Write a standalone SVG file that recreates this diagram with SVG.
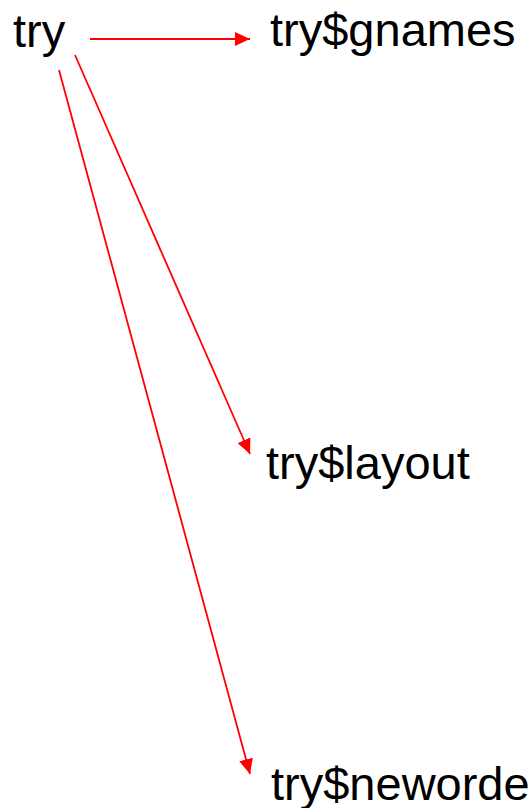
<svg xmlns="http://www.w3.org/2000/svg" width="530" height="808" viewBox="0 0 530 808">
<style>
.lbl{font-family:"Liberation Sans",Arial,sans-serif;font-size:47px;fill:#000}
.edge{stroke:#ff0000;stroke-width:1.8;fill:none}
</style>
<defs>
<marker id="ah" markerWidth="15" markerHeight="14" refX="15" refY="7" orient="auto" markerUnits="userSpaceOnUse">
<path d="M0,0 L15,7 L0,14 Z" fill="#ff0000"/>
</marker>
</defs>
<rect width="530" height="808" fill="#fff"/>
<g id="connectors">
<line class="edge" x1="90" y1="39" x2="250" y2="39" marker-end="url(#ah)"/>
<line class="edge" x1="75" y1="55" x2="250" y2="454" marker-end="url(#ah)"/>
<line class="edge" x1="59" y1="70" x2="250" y2="774" marker-end="url(#ah)"/>
</g>
<g id="n-try"><text class="lbl" x="13" y="47">try</text></g>
<g id="n-gnames"><text class="lbl" x="270" y="46">try$gnames</text></g>
<g id="n-layout"><text class="lbl" x="266" y="479">try$layout</text></g>
<g id="n-neworder"><text class="lbl" x="271" y="800">try$neworder</text></g>
</svg>
